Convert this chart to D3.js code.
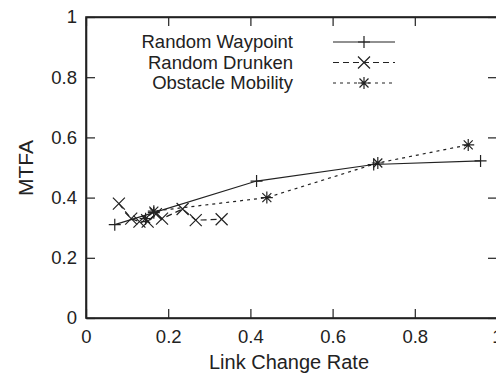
<!DOCTYPE html>
<html lang="en">
<head>
  <script src="https://cdn.jsdelivr.net/npm/d3@7"></script>
  <style>
    body { margin: 0; background: #fff; overflow: hidden; }
    svg { font-family: "Liberation Sans", Arial, sans-serif; }
    .tick text { font-size: 18.5px; fill: #222; }
  </style>
</head>
<body>
  <svg id="chart" width="496" height="378"></svg>
  <script>
    // values
    var seriesNames = ['Random Waypoint', 'Random Drunken', 'Obstacle Mobility'];
    var waypointX = [0.07, 0.165, 0.415, 0.70, 0.96];
    var waypointY = [0.31, 0.35, 0.455, 0.51, 0.522];
    var drunkenX = [0.08, 0.11, 0.13, 0.15, 0.17, 0.185, 0.235, 0.267, 0.33];
    var drunkenY = [0.38, 0.33, 0.32, 0.32, 0.345, 0.33, 0.362, 0.325, 0.328];
    var obstacleX = [0.145, 0.165, 0.44, 0.71, 0.93];
    var obstacleY = [0.33, 0.355, 0.40, 0.515, 0.575];
    var xTicks = [0, 0.2, 0.4, 0.6, 0.8, 1];
    var yTicks = [0, 0.2, 0.4, 0.6, 0.8, 1];

    var margin = { top: 17, left: 86, bottom: 60, right: -1 };
    var width = 496 - margin.left - margin.right;
    var height = 378 - margin.top - margin.bottom;

    var x = d3.scaleLinear().domain([0, 1]).range([0, width]);
    var y = d3.scaleLinear().domain([0, 1]).range([height, 0]);

    var svg = d3.select('#chart').append('g')
      .attr('transform', 'translate(' + margin.left + ',' + margin.top + ')');

    var fmt = function (d) { return d === 0 || d === 1 ? String(d) : d3.format('.1f')(d); };

    // axes with inward ticks
    svg.append('g')
      .attr('transform', 'translate(0,' + height + ')')
      .call(d3.axisBottom(x).tickValues(xTicks).tickFormat(fmt).tickSizeInner(-9).tickSizeOuter(0).tickPadding(12));
    svg.append('g')
      .call(d3.axisTop(x).tickValues(xTicks).tickFormat('').tickSizeInner(-9).tickSizeOuter(0));
    svg.append('g')
      .call(d3.axisLeft(y).tickValues(yTicks).tickFormat(fmt).tickSizeInner(-9).tickSizeOuter(0).tickPadding(9));
    svg.append('g')
      .attr('transform', 'translate(' + width + ',0)')
      .call(d3.axisRight(y).tickValues(yTicks).tickFormat('').tickSizeInner(-9).tickSizeOuter(0));

    svg.selectAll('.domain').attr('stroke', '#222').attr('stroke-width', 1.6);
    svg.selectAll('.tick line').attr('stroke', '#222').attr('stroke-width', 1.2);
    svg.selectAll('.tick text').attr('fill', '#222');

    svg.append('rect')
      .attr('width', width).attr('height', height)
      .attr('fill', 'none').attr('stroke', '#222').attr('stroke-width', 1.6);

    // axis titles
    d3.select('#chart').append('text')
      .attr('x', 289).attr('y', 369)
      .attr('text-anchor', 'middle')
      .style('font-size', '20px').attr('fill', '#222')
      .text('Link Change Rate');
    d3.select('#chart').append('text')
      .attr('transform', 'translate(33,168) rotate(-90)')
      .attr('text-anchor', 'middle')
      .style('font-size', '21px').attr('fill', '#222')
      .text('MTFA');

    // marker shapes
    function plus(s) { return 'M' + (-s) + ',0H' + s + 'M0,' + (-s) + 'V' + s; }
    function cross(s) { return 'M' + (-s) + ',' + (-s) + 'L' + s + ',' + s + 'M' + (-s) + ',' + s + 'L' + s + ',' + (-s); }
    function star(s) { var t = s * 0.75; return plus(s) + cross(t); }

    var series = [
      { name: seriesNames[0], xs: waypointX, ys: waypointY, dash: null, marker: function () { return plus(6); } },
      { name: seriesNames[1], xs: drunkenX, ys: drunkenY, dash: '6,4', marker: function () { return cross(6); } },
      { name: seriesNames[2], xs: obstacleX, ys: obstacleY, dash: '3,4', marker: function () { return star(6); } }
    ];

    var line = d3.line()
      .x(function (d) { return x(d[0]); })
      .y(function (d) { return y(d[1]); });

    series.forEach(function (s) {
      var pts = s.xs.map(function (v, i) { return [v, s.ys[i]]; });
      svg.append('path')
        .datum(pts)
        .attr('d', line)
        .attr('fill', 'none')
        .attr('stroke', '#222')
        .attr('stroke-width', 1.2)
        .attr('stroke-dasharray', s.dash);
      svg.selectAll(null)
        .data(pts)
        .enter().append('path')
        .attr('transform', function (d) { return 'translate(' + x(d[0]) + ',' + y(d[1]) + ')'; })
        .attr('d', s.marker)
        .attr('fill', 'none')
        .attr('stroke', '#222')
        .attr('stroke-width', 1.2);
    });

    // legend
    var legend = d3.select('#chart').append('g');
    series.forEach(function (s, i) {
      var ly = 42 + i * 20.5;
      legend.append('text')
        .attr('x', 293).attr('y', ly + 6)
        .attr('text-anchor', 'end')
        .style('font-size', '18.5px').attr('fill', '#222')
        .text(s.name);
      legend.append('line')
        .attr('x1', 333).attr('x2', 395)
        .attr('y1', ly).attr('y2', ly)
        .attr('stroke', '#222').attr('stroke-width', 1.2)
        .attr('stroke-dasharray', s.dash);
      legend.append('path')
        .attr('transform', 'translate(364,' + ly + ')')
        .attr('d', s.marker)
        .attr('fill', 'none').attr('stroke', '#222').attr('stroke-width', 1.2);
    });
  </script>
</body>
</html>
